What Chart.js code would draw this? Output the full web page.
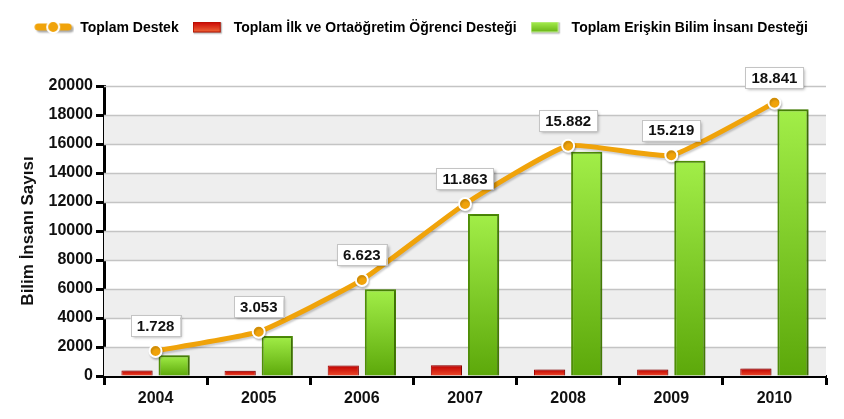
<!DOCTYPE html>
<html>
<head>
<meta charset="utf-8">
<script src="https://cdn.jsdelivr.net/npm/chart.js@4.4.1/dist/chart.umd.min.js"></script>
<style>
  html, body { margin: 0; padding: 0; background: #fff; }
  #wrap { width: 844px; height: 419px; }
</style>
</head>
<body>
<div id="wrap"><canvas id="chart"></canvas></div>
<script>
// --- Data ---
const years = ['2004', '2005', '2006', '2007', '2008', '2009', '2010'];
const totalSupport = [1728, 3053, 6623, 11863, 15882, 15219, 18841];
const studentSupport = [380, 370, 720, 740, 450, 440, 520];
const researcherSupport = [1430, 2760, 5980, 11170, 15470, 14850, 18390];
const yTicks = [0, 2000, 4000, 6000, 8000, 10000, 12000, 14000, 16000, 18000, 20000];

const seriesNames = [
    'Toplam Destek',
    'Toplam İlk ve Ortaöğretim Öğrenci Desteği',
    'Toplam Erişkin Bilim İnsanı Desteği'
];

const FONT = '"Liberation Sans", Arial, sans-serif';
Chart.defaults.font.family = FONT;
Chart.defaults.color = '#111';

// --- Legend symbols (small canvases used as point styles) ---
function lineSymbol() {
    const c = document.createElement('canvas');
    c.width = 40; c.height = 16;
    const g = c.getContext('2d');
    g.shadowColor = 'rgba(0,0,0,0.35)';
    g.shadowOffsetX = 2; g.shadowOffsetY = 2; g.shadowBlur = 2;
    g.strokeStyle = '#F0A30A';
    g.lineWidth = 7;
    g.lineCap = 'round';
    g.beginPath(); g.moveTo(4, 7); g.lineTo(34, 7); g.stroke();
    g.shadowColor = 'transparent';
    g.fillStyle = '#F0A30A';
    g.strokeStyle = '#fff';
    g.lineWidth = 2;
    g.beginPath(); g.arc(19, 7, 6, 0, Math.PI * 2); g.fill(); g.stroke();
    return c;
}

function boxSymbol(top, bottom, border) {
    const c = document.createElement('canvas');
    c.width = 30; c.height = 13;
    const g = c.getContext('2d');
    const grad = g.createLinearGradient(0, 0, 0, 11);
    grad.addColorStop(0, top);
    grad.addColorStop(1, bottom);
    g.shadowColor = 'rgba(0,0,0,0.3)';
    g.shadowOffsetX = 1; g.shadowOffsetY = 1; g.shadowBlur = 1;
    g.fillStyle = grad;
    g.fillRect(0, 0, 28, 11);
    g.shadowColor = 'transparent';
    g.strokeStyle = border;
    g.lineWidth = 1;
    g.strokeRect(0.5, 0.5, 27, 10);
    return c;
}

const legendIcons = [
    lineSymbol(),
    boxSymbol('#C80000', '#F06A3A', '#B01000'),
    boxSymbol('#A8F050', '#66B214', '#C8F29A')
];

// --- Helpers ---
function formatTR(v) {
    return String(v).replace(/\B(?=(\d{3})+(?!\d))/g, '.');
}

function barGradient(ctx, topColor, bottomColor) {
    const chart = ctx.chart;
    const yScale = chart.scales.y;
    if (!yScale || ctx.parsed === undefined) return topColor;
    const yTop = yScale.getPixelForValue(ctx.parsed.y);
    const yBase = yScale.getPixelForValue(0);
    const grad = chart.ctx.createLinearGradient(0, yTop, 0, yBase);
    grad.addColorStop(0, topColor);
    grad.addColorStop(1, bottomColor);
    return grad;
}

// --- Plugins ---
const bandsPlugin = {
    id: 'bands',
    beforeDatasetsDraw(chart) {
        const { ctx, chartArea, scales } = chart;
        ctx.save();
        ctx.fillStyle = '#EEEEEE';
        for (let i = 0; i < yTicks.length - 1; i += 2) {
            const y1 = scales.y.getPixelForValue(yTicks[i]);
            const y2 = scales.y.getPixelForValue(yTicks[i + 1]);
            ctx.fillRect(chartArea.left, y2, chartArea.right - chartArea.left, y1 - y2);
        }
        // redraw horizontal grid lines over the bands
        ctx.strokeStyle = '#C4C4C4';
        ctx.lineWidth = 1.5;
        yTicks.forEach(t => {
            if (t === 0) return;
            const y = Math.round(scales.y.getPixelForValue(t)) + 0.5;
            ctx.beginPath();
            ctx.moveTo(chartArea.left, y);
            ctx.lineTo(chartArea.right, y);
            ctx.stroke();
        });
        ctx.restore();
    }
};

const shadowPlugin = {
    id: 'barShadow',
    beforeDatasetDraw(chart, args) {
        const ctx = chart.ctx;
        ctx.save();
        if (args.meta.type === 'bar') {
            ctx.shadowColor = 'rgba(0,0,0,0.3)';
            ctx.shadowOffsetX = 2;
            ctx.shadowOffsetY = 0;
            ctx.shadowBlur = 3;
        } else {
            ctx.shadowColor = 'rgba(0,0,0,0.2)';
            ctx.shadowOffsetX = 1;
            ctx.shadowOffsetY = 2;
            ctx.shadowBlur = 2;
        }
    },
    afterDatasetDraw(chart) {
        chart.ctx.restore();
    }
};

const valueLabels = {
    id: 'valueLabels',
    afterDatasetsDraw(chart) {
        const ctx = chart.ctx;
        const meta = chart.getDatasetMeta(0);
        ctx.save();
        ctx.font = 'bold 15px ' + FONT;
        ctx.textAlign = 'center';
        ctx.textBaseline = 'middle';
        meta.data.forEach((pt, i) => {
            const text = formatTR(totalSupport[i]);
            const w = ctx.measureText(text).width + 12;
            const h = 21;
            const cx = pt.x;
            const cy = pt.y - 25;
            ctx.shadowColor = 'rgba(0,0,0,0.35)';
            ctx.shadowOffsetX = 2;
            ctx.shadowOffsetY = 2;
            ctx.shadowBlur = 3;
            ctx.fillStyle = '#fff';
            ctx.fillRect(cx - w / 2, cy - h / 2, w, h);
            ctx.shadowColor = 'transparent';
            ctx.strokeStyle = '#C4C4C4';
            ctx.lineWidth = 1;
            ctx.strokeRect(Math.round(cx - w / 2) + 0.5, Math.round(cy - h / 2) + 0.5, Math.round(w), h);
            ctx.fillStyle = '#111';
            ctx.fillText(text, cx, cy + 1);
        });
        ctx.restore();
    }
};

const legendSpacer = {
    id: 'legendSpacer',
    beforeInit(chart) {
        const fit = chart.legend.fit;
        chart.legend.fit = function() {
            fit.call(this);
            this.height += 41;
        };
    }
};

// --- Chart ---
new Chart(document.getElementById('chart'), {
    type: 'bar',
    data: {
        labels: years,
        datasets: [
            {
                type: 'line',
                label: seriesNames[0],
                data: totalSupport,
                borderColor: '#F0A30A',
                borderWidth: 5,
                backgroundColor: '#F0A30A',
                pointRadius: 6,
                pointBackgroundColor: '#F0A30A',
                pointBorderColor: '#fff',
                pointBorderWidth: 2,
                tension: 0.15,
                order: 0
            },
            {
                label: seriesNames[1],
                data: studentSupport,
                backgroundColor: ctx => barGradient(ctx, '#C00000', '#EE4A2A'),
                borderColor: '#A80000',
                borderWidth: 1,
                categoryPercentage: 0.72,
                barPercentage: 0.84,
                order: 1
            },
            {
                label: seriesNames[2],
                data: researcherSupport,
                backgroundColor: ctx => barGradient(ctx, '#A2EE48', '#5CA80A'),
                borderColor: '#4E8E06',
                borderWidth: 2,
                categoryPercentage: 0.72,
                barPercentage: 0.84,
                order: 1
            }
        ]
    },
    options: {
        responsive: true,
        maintainAspectRatio: false,
        animation: false,
        layout: { padding: { top: 11, right: 18, bottom: 0, left: 17 } },
        plugins: {
            tooltip: { enabled: false },
            legend: {
                position: 'top',
                labels: {
                    usePointStyle: true,
                    pointStyleWidth: 38,
                    boxHeight: 14,
                    padding: 10,
                    color: '#111',
                    font: { size: 14, weight: 'bold' },
                    generateLabels: () => seriesNames.map((name, i) => ({
                        text: name,
                        pointStyle: legendIcons[i],
                        datasetIndex: i,
                        fillStyle: 'transparent',
                        strokeStyle: 'transparent',
                        lineWidth: 0,
                        hidden: false
                    }))
                }
            }
        },
        scales: {
            x: {
                offset: true,
                grid: {
                    offset: true,
                    drawOnChartArea: false,
                    drawTicks: true,
                    tickLength: 9,
                    tickColor: '#000',
                    tickWidth: 3
                },
                border: { color: '#000', width: 3 },
                ticks: {
                    padding: 4,
                    color: '#111',
                    font: { size: 16, weight: 'bold' }
                },
                afterFit: scale => { scale.height = 43; }
            },
            y: {
                min: 0,
                max: 20000,
                afterBuildTicks: scale => {
                    scale.ticks = yTicks.map(v => ({ value: v }));
                },
                grid: {
                    color: 'rgba(0,0,0,0)',
                    drawTicks: true,
                    tickLength: 8,
                    tickColor: '#000',
                    tickWidth: 3
                },
                border: { color: '#000', width: 3 },
                ticks: {
                    padding: 3,
                    color: '#111',
                    font: { size: 16, weight: 'bold' },
                    callback: v => String(v)
                },
                title: {
                    display: true,
                    text: 'Bilim İnsanı Sayısı',
                    color: '#111',
                    font: { size: 17, weight: 'bold' },
                    padding: { top: 1, bottom: 0 }
                },
                afterFit: scale => { scale.width = 87; }
            }
        }
    },
    plugins: [legendSpacer, bandsPlugin, shadowPlugin, valueLabels]
});
</script>
</body>
</html>
